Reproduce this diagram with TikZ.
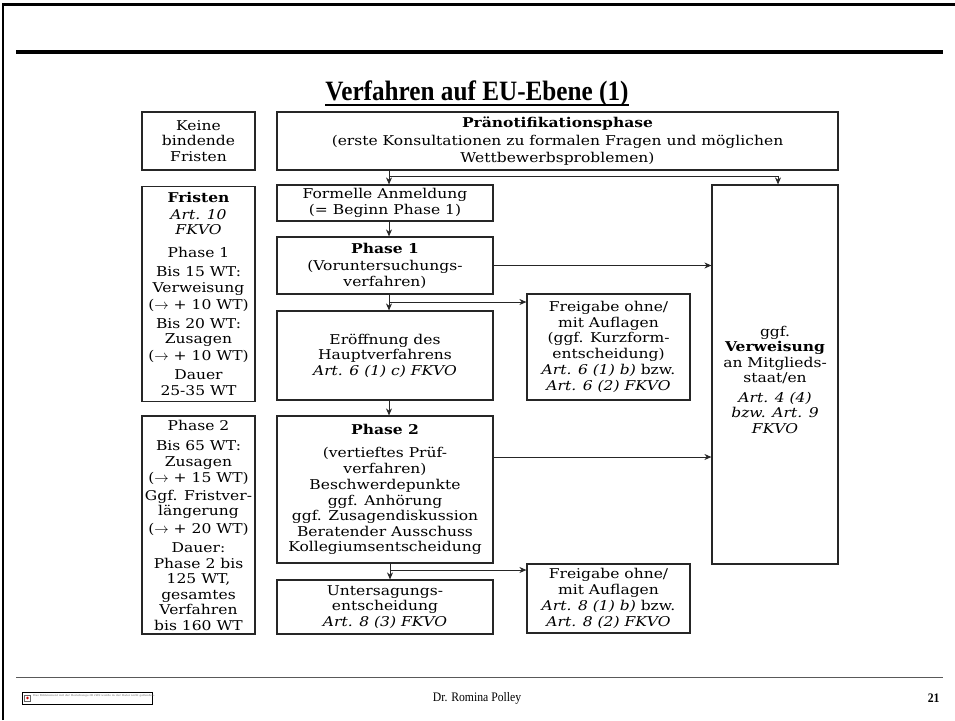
\documentclass[tikz,border=0pt]{standalone}
\usepackage{fontspec}
\setmainfont[FakeStretch=1.15]{DejaVu Serif}
\newfontfamily\titlefont{Liberation Serif}
\newfontfamily\titlecond[FakeStretch=0.9]{Liberation Serif}
\usetikzlibrary{arrows.meta,calc}
\tikzset{
  box/.style={draw=black!85, line width=1.2pt, inner sep=0pt, align=center,
    font=\fontsize{13.5}{15.5}\selectfont, text=black},
  arr/.style={draw=black!85, line width=0.9pt, -{Stealth[length=7pt,width=6pt]}},
}
\newcommand{\ra}{$\rightarrow$}
\begin{document}
\begin{tikzpicture}[x=1pt,y=-1pt]
\useasboundingbox (0,0) rectangle (955,720);
\fill[white] (0,0) rectangle (955,720);
% frame
\draw[line width=2.5pt] (3,720) -- (3,4.5) -- (955,4.5);
\draw[line width=4pt] (16,52) -- (943,52);
\draw[line width=1pt, black!65] (16,677) -- (943,677);
% title
\node[anchor=base, inner sep=0pt, font=\titlecond\bfseries\fontsize{28}{32}\selectfont] (title) at (477,100) {Verfahren auf EU-Ebene (1)};
\draw[line width=1.8pt] ([yshift=-5pt]title.base west) -- ([yshift=-5pt]title.base east);

% boxes
\node[box, minimum width=113, minimum height=58] (keine) at (198.5,141) {Keine\\bindende\\Fristen};
\node[box, minimum width=561, minimum height=58] (praen) at (557.5,141)
  {\textbf{Pränotifikationsphase}\\[2.5pt](erste Konsultationen zu formalen Fragen und möglichen\\[1pt]Wettbewerbsproblemen)};
\node[box, minimum width=113, minimum height=215] (fristen) at (198.5,294)
  {\textbf{Fristen}\\[1pt]\textit{Art. 10}\\\textit{FKVO}\\[7pt]Phase 1\\[4pt]Bis 15 WT:\\Verweisung\\[2pt](\ra{} + 10 WT)\\[3pt]Bis 20 WT:\\Zusagen\\[1pt](\ra{} + 10 WT)\\[4pt]Dauer\\25-35 WT};
\node[box, minimum width=113, minimum height=218] (lphase2) at (198.5,525)
  {Phase 2\\[5pt]Bis 65 WT:\\Zusagen\\[1pt](\ra{} + 15 WT)\\[2pt]Ggf. Fristver-\\längerung\\[2pt](\ra{} + 20 WT)\\[4pt]Dauer:\\Phase 2 bis\\125 WT,\\gesamtes\\Verfahren\\bis 160 WT};
\node[box, minimum width=216, minimum height=36] (formelle) at (385,203)
  {Formelle Anmeldung\\(= Beginn Phase 1)};
\node[box, minimum width=216, minimum height=57] (phase1) at (385,265.5)
  {\textbf{Phase 1}\\[2pt](Voruntersuchungs-\\verfahren)};
\node[box, minimum width=216, minimum height=89] (eroeff) at (385,355.5)
  {Eröffnung des\\Hauptverfahrens\\\textit{Art. 6 (1) c) FKVO}};
\node[box, minimum width=216, minimum height=147] (phase2) at (385,489.5)
  {\textbf{Phase 2}\\[8pt](vertieftes Prüf-\\verfahren)\\[1pt]Beschwerdepunkte\\ggf. Anhörung\\ggf. Zusagendiskussion\\Beratender Ausschuss\\Kollegiumsentscheidung};
\node[box, minimum width=216, minimum height=54] (unters) at (385,607)
  {Untersagungs-\\entscheidung\\\textit{Art. 8 (3) FKVO}};
\node[box, minimum width=163, minimum height=106] (frei1) at (608.5,347)
  {Freigabe ohne/\\mit Auflagen\\(ggf. Kurzform-\\entscheidung)\\[1pt]\textit{Art. 6 (1) b)} bzw.\\\textit{Art. 6 (2) FKVO}};
\node[box, minimum width=163, minimum height=69] (frei2) at (608.5,598.5)
  {Freigabe ohne/\\mit Auflagen\\[1pt]\textit{Art. 8 (1) b)} bzw.\\\textit{Art. 8 (2) FKVO}};
\node[box, minimum width=126, minimum height=379] (verw) at (775,374.5) {};
\node[align=center, inner sep=0pt, font=\fontsize{13.5}{15.5}\selectfont] (verwtxt) at ([yshift=-5pt]verw.center)
  {ggf.\\\textbf{Verweisung}\\an Mitglieds-\\staat/en\\[4pt]\textit{Art. 4 (4)}\\\textit{bzw. Art. 9}\\\textit{FKVO}};

% connectors
\coordinate (xa) at (389,0);
\coordinate (xb) at (390,0);
\coordinate (b1) at (389,176);
\coordinate (b2) at (389,302);
\coordinate (b3) at (390,570);
\draw[arr] (praen.south -| xa) -- (formelle.north -| xa);
\draw[arr] (b1) -| ([xshift=3pt]verw.north);
\draw[arr] (formelle.south -| xa) -- (phase1.north -| xa);
\draw[arr] (phase1.east) -- (verw.west |- phase1.east);
\draw[arr] (phase1.south -| xa) -- (eroeff.north -| xa);
\draw[arr] (b2) -- (frei1.west |- b2);
\draw[arr] (eroeff.south -| xa) -- (phase2.north -| xa);
\coordinate (y7) at (0,457);
\draw[arr] (phase2.east |- y7) -- (verw.west |- y7);
\draw[arr] (phase2.south -| xb) -- (unters.north -| xb);
\draw[arr] (b3) -- (frei2.west |- b3);

% footer
\node[draw=black, line width=0.8pt, minimum width=130, minimum height=12, inner sep=0pt] (imgbox) at (87,698) {};
\node[draw=black!60, fill=white, minimum size=6, inner sep=0pt] (icon) at (27.5,698) {};
\fill[red!80!black] (icon.center) circle (1.3pt);
\node[anchor=west, inner sep=0pt, align=left, font=\fontsize{2.6}{3}\selectfont, text=black!60] (imgtxt) at (33,697)
  {Das Bildelement mit der Beziehungs-ID rId9 wurde in der Datei nicht gefunden.\\ \ };
\node[font=\titlecond\fontsize{13}{15}\selectfont] (author) at (477,698) {Dr. Romina Polley};
\node[font=\titlecond\bfseries\fontsize{13}{15}\selectfont, anchor=east] (page) at (943,698) {21};
\end{tikzpicture}
\end{document}
